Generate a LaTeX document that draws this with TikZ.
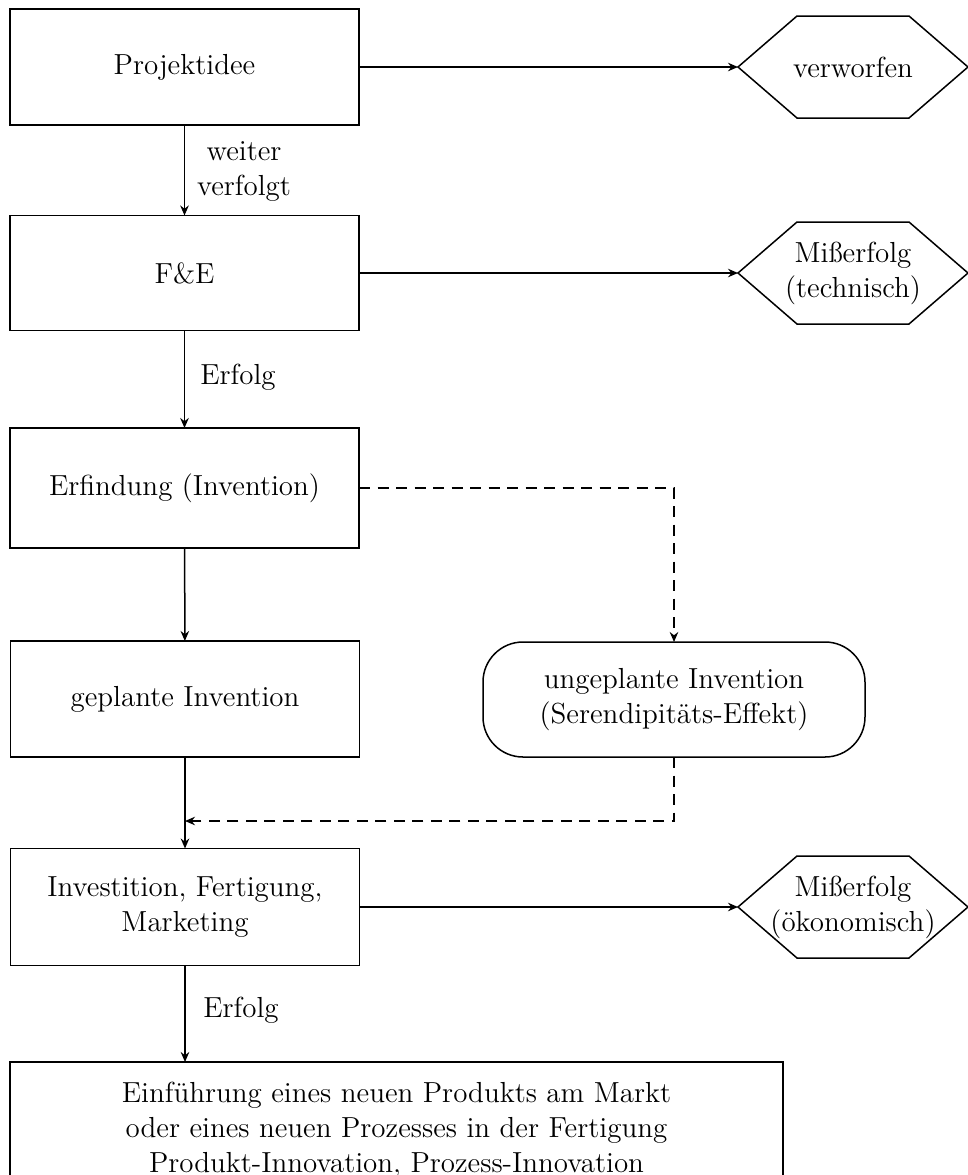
\documentclass[tikz,border=0pt]{standalone}
\usetikzlibrary{arrows.meta,calc}
\begin{document}
\begin{tikzpicture}[x=0.4pt,y=-0.4pt,
  every node/.style={font=\fontsize{11.6}{14}\selectfont, align=center, inner sep=0pt, outer sep=0pt},
  box/.style={draw, line width=0.6pt, minimum width=139.6pt},
  hexnode/.style={minimum width=92pt, minimum height=40.8pt},
  conn/.style={line width=0.6pt, -{Stealth[length=4pt,width=3.4pt]}},
  dconn/.style={conn, dash pattern=on 4.4pt off 3pt},
  lbl/.style={}]
\clip (0,0) rectangle (968,1175);
% main column
\node[box, minimum height=46.4pt] (proj) at (184.5,67) {Projektidee};
\node[box, minimum height=46pt] (fe) at (184.5,273) {F\&E};
\node[box, minimum height=48pt] (erf) at (184.5,488) {Erfindung (Invention)};
\node[box, minimum height=46.4pt] (gepl) at (185,699) {geplante Invention};
\node[box, minimum height=46pt, minimum width=152.8pt, rounded corners=16pt] (ung) at (674,699.5) {ungeplante Invention\\(Serendipit\"ats-Effekt)};
\node[box, minimum height=46.8pt] (inv) at (185,907) {Investition, Fertigung,\\Marketing};
\node[box, minimum height=54.4pt, minimum width=309.2pt] (einf) at (396.5,1130) {Einf\"uhrung eines neuen Produkts am Markt\\oder eines neuen Prozesses in der Fertigung\\Produkt-Innovation, Prozess-Innovation};
% hexagons
\node[hexnode] (verw) at (853,67) {verworfen};
\node[hexnode] (mtech) at (853,273) {Mi\ss erfolg\\(technisch)};
\node[hexnode] (moek) at (853,907) {Mi\ss erfolg\\(\"okonomisch)};
\foreach \h in {verw,mtech,moek}{
  \draw[line width=0.6pt] (\h.west) -- ([xshift=23.6pt]\h.north west) -- ([xshift=-23.6pt]\h.north east) -- (\h.east) -- ([xshift=-23.6pt]\h.south east) -- ([xshift=23.6pt]\h.south west) -- cycle;
}
% connectors
\draw[conn] (proj) -- (verw.west);
\draw[conn] (fe) -- (mtech.west);
\draw[conn] (inv) -- (moek.west);
\draw[conn] (proj) -- (fe);
\draw[conn] (fe) -- (erf);
\draw[conn] (erf) -- (gepl);
\draw[conn] (gepl) -- (inv);
\draw[conn] (inv) -- (einf.north -| inv);
\coordinate (jn) at (185,821);
\draw[dconn] (erf.east) -| (ung.north);
\draw[dconn] (ung.south) |- (jn);
% labels
\node[lbl] (l1) at (244,171) {weiter\\verfolgt};
\node[lbl] (l2) at (238,377) {Erfolg};
\node[lbl] (l3) at (241,1010) {Erfolg};
\end{tikzpicture}
\end{document}
